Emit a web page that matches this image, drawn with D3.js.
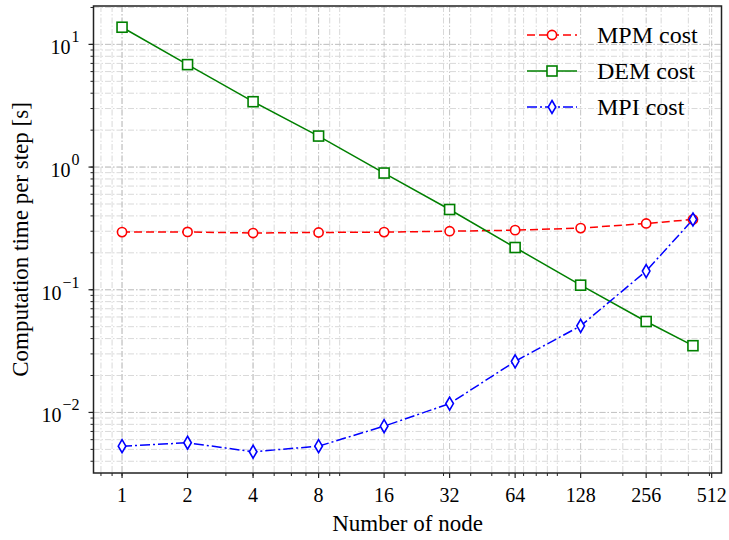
<!DOCTYPE html>
<html>
<head>
<meta charset="utf-8">
<script src="https://cdn.jsdelivr.net/npm/d3@7"></script>
<style>
  body { margin: 0; background: #fff; }
</style>
</head>
<body>
<div id="chart"></div>
<script>
// node counts and cost per step [s]
var nodes = [1, 2, 4, 8, 16, 32, 64, 128, 256, 420];
var mpmCost = [0.295, 0.296, 0.290, 0.293, 0.295, 0.300, 0.306, 0.318, 0.347, 0.374];
var demCost = [13.8, 6.84, 3.41, 1.79, 0.894, 0.451, 0.221, 0.109, 0.0551, 0.035];
var mpiCost = [0.00531, 0.00566, 0.00478, 0.00531, 0.00773, 0.0118, 0.0261, 0.0508, 0.142, 0.374];
var xTicks = [1, 2, 4, 8, 16, 32, 64, 128, 256, 512];
var yTicks = [-2, -1, 0, 1]; // exponents of 10

var seriesNames = ["MPM cost", "DEM cost", "MPI cost"];

var width = 729;
var height = 540;
var margin = { top: 6, right: 7.5, bottom: 67, left: 93.5 };
var plotW = width - margin.left - margin.right;
var plotH = height - margin.top - margin.bottom;
var serif = "'Liberation Serif'";

var svg = d3.select("#chart")
    .append("svg")
    .attr("width", width)
    .attr("height", height);

var g = svg.append("g")
    .attr("transform", "translate(" + margin.left + "," + margin.top + ")");

// 5% padding in log space, like matplotlib
var lx0 = Math.log2(d3.min(nodes)), lx1 = Math.log2(d3.max(nodes));
var padX = (lx1 - lx0) * 0.05;
var allY = mpmCost.concat(demCost, mpiCost);
var ly0 = Math.log10(d3.min(allY)), ly1 = Math.log10(d3.max(allY));
var padY = (ly1 - ly0) * 0.05;

var x = d3.scaleLog().base(2)
    .domain([Math.pow(2, lx0 - padX), Math.pow(2, lx1 + padX)])
    .range([0, plotW]);
var y = d3.scaleLog()
    .domain([Math.pow(10, ly0 - padY), Math.pow(10, ly1 + padY)])
    .range([plotH, 0]);

// minor positions: base-10 style subs on both axes
function minorValues(domain) {
    var vals = [];
    for (var e = -4; e <= 4; e++) {
        for (var s = 1; s <= 9; s++) {
            var v = s * Math.pow(10, e);
            if (v >= domain[0] && v <= domain[1]) vals.push(v);
        }
    }
    return vals;
}
var xMinor = minorValues(x.domain());
var yMinor = minorValues(y.domain());

var gridDash = "6,2,1.5,2";

// grid lines
g.append("g").selectAll("line")
    .data(xMinor).enter().append("line")
    .attr("x1", d => x(d)).attr("x2", d => x(d))
    .attr("y1", 0).attr("y2", plotH)
    .attr("stroke", "#d9d9d9").attr("stroke-width", 1)
    .attr("stroke-dasharray", gridDash);
g.append("g").selectAll("line")
    .data(yMinor).enter().append("line")
    .attr("x1", 0).attr("x2", plotW)
    .attr("y1", d => y(d)).attr("y2", d => y(d))
    .attr("stroke", "#d9d9d9").attr("stroke-width", 1)
    .attr("stroke-dasharray", gridDash);
g.append("g").selectAll("line")
    .data(xTicks.filter(d => d <= x.domain()[1])).enter().append("line")
    .attr("x1", d => x(d)).attr("x2", d => x(d))
    .attr("y1", 0).attr("y2", plotH)
    .attr("stroke", "#c4c4c4").attr("stroke-width", 1)
    .attr("stroke-dasharray", gridDash);
g.append("g").selectAll("line")
    .data(yTicks).enter().append("line")
    .attr("x1", 0).attr("x2", plotW)
    .attr("y1", d => y(Math.pow(10, d))).attr("y2", d => y(Math.pow(10, d)))
    .attr("stroke", "#c4c4c4").attr("stroke-width", 1)
    .attr("stroke-dasharray", gridDash);

// x axis
var xAxis = g.append("g").attr("transform", "translate(0," + plotH + ")");
xAxis.selectAll("line.minor")
    .data(xMinor).enter().append("line")
    .attr("class", "minor")
    .attr("x1", d => x(d)).attr("x2", d => x(d))
    .attr("y1", 0).attr("y2", 3)
    .attr("stroke", "#222").attr("stroke-width", 1);
xAxis.selectAll("line.major")
    .data(xTicks).enter().append("line")
    .attr("class", "major")
    .attr("x1", d => x(d)).attr("x2", d => x(d))
    .attr("y1", 0).attr("y2", 5)
    .attr("stroke", "#222").attr("stroke-width", 1.2);
xAxis.selectAll("text")
    .data(xTicks).enter().append("text")
    .attr("x", d => x(d)).attr("y", 29)
    .attr("text-anchor", "middle")
    .attr("font-family", serif)
    .attr("font-size", 20)
    .text(d => d);

// y axis
var yAxis = g.append("g");
yAxis.selectAll("line.minor")
    .data(yMinor).enter().append("line")
    .attr("class", "minor")
    .attr("x1", -3).attr("x2", 0)
    .attr("y1", d => y(d)).attr("y2", d => y(d))
    .attr("stroke", "#222").attr("stroke-width", 1);
yAxis.selectAll("line.major")
    .data(yTicks).enter().append("line")
    .attr("class", "major")
    .attr("x1", -5).attr("x2", 0)
    .attr("y1", d => y(Math.pow(10, d))).attr("y2", d => y(Math.pow(10, d)))
    .attr("stroke", "#222").attr("stroke-width", 1.2);
var yLab = yAxis.selectAll("text")
    .data(yTicks).enter().append("text")
    .attr("x", 0).attr("y", d => y(Math.pow(10, d)) + 10)
    .attr("font-family", serif)
    .attr("font-size", 20);
yLab.append("tspan").text("10");
yLab.append("tspan")
    .attr("dy", -12)
    .attr("dx", 1)
    .attr("font-size", 16)
    .text(d => d < 0 ? "\u2212" + (-d) : String(d));
// right-align each label against the tick
yLab.each(function () {
    var w = this.getBBox().width;
    d3.select(this).attr("x", -14 - w);
});

// frame
g.append("rect")
    .attr("x", 0).attr("y", 0)
    .attr("width", plotW).attr("height", plotH)
    .attr("fill", "none")
    .attr("stroke", "#222").attr("stroke-width", 1.5);

// axis labels
svg.append("text")
    .attr("x", margin.left + x(Math.sqrt(x.domain()[0] * x.domain()[1])))
    .attr("y", 531)
    .attr("text-anchor", "middle")
    .attr("font-family", serif)
    .attr("font-size", 23)
    .text("Number of node");
svg.append("text")
    .attr("transform", "translate(28," + (margin.top + plotH / 2) + ") rotate(-90)")
    .attr("text-anchor", "middle")
    .attr("font-family", serif)
    .attr("font-size", 23)
    .text("Computation time per step [s]");

// series
var series = [
    { name: seriesNames[0], values: mpmCost, color: "#ff0000", dash: "8,4", marker: "circle" },
    { name: seriesNames[1], values: demCost, color: "#008000", dash: null, marker: "square" },
    { name: seriesNames[2], values: mpiCost, color: "#0000ff", dash: "10,3,2,3", marker: "thin_diamond" }
];

var line = d3.line()
    .x((d, i) => x(nodes[i]))
    .y(d => y(d));

function drawMarker(sel, type, color) {
    if (type === "circle") {
        sel.append("circle").attr("r", 4.6);
    } else if (type === "square") {
        sel.append("rect").attr("x", -5).attr("y", -5).attr("width", 10).attr("height", 10);
    } else {
        sel.append("path").attr("d", "M0,-6.5L3.8,0L0,6.5L-3.8,0Z");
    }
    sel.selectAll("*")
        .attr("fill", "#fff")
        .attr("stroke", color)
        .attr("stroke-width", 1.6);
}

series.forEach(function (s) {
    g.append("path")
        .datum(s.values)
        .attr("d", line)
        .attr("fill", "none")
        .attr("stroke", s.color)
        .attr("stroke-width", 1.5)
        .attr("stroke-dasharray", s.dash);
});
series.forEach(function (s) {
    var pts = g.append("g").selectAll("g")
        .data(s.values).enter().append("g")
        .attr("transform", (d, i) => "translate(" + x(nodes[i]) + "," + y(d) + ")");
    drawMarker(pts, s.marker, s.color);
});

// legend (no frame)
var legend = svg.append("g").attr("transform", "translate(527,35)");
series.forEach(function (s, i) {
    var row = legend.append("g").attr("transform", "translate(0," + (i * 36) + ")");
    row.append("line")
        .attr("x1", 0).attr("x2", 50)
        .attr("stroke", s.color).attr("stroke-width", 1.5)
        .attr("stroke-dasharray", s.dash);
    var m = row.append("g").attr("transform", "translate(25,0)");
    drawMarker(m, s.marker, s.color);
    row.append("text")
        .attr("x", 70).attr("y", 8)
        .attr("font-family", serif)
        .attr("font-size", 24)
        .text(s.name);
});
</script>
</body>
</html>
